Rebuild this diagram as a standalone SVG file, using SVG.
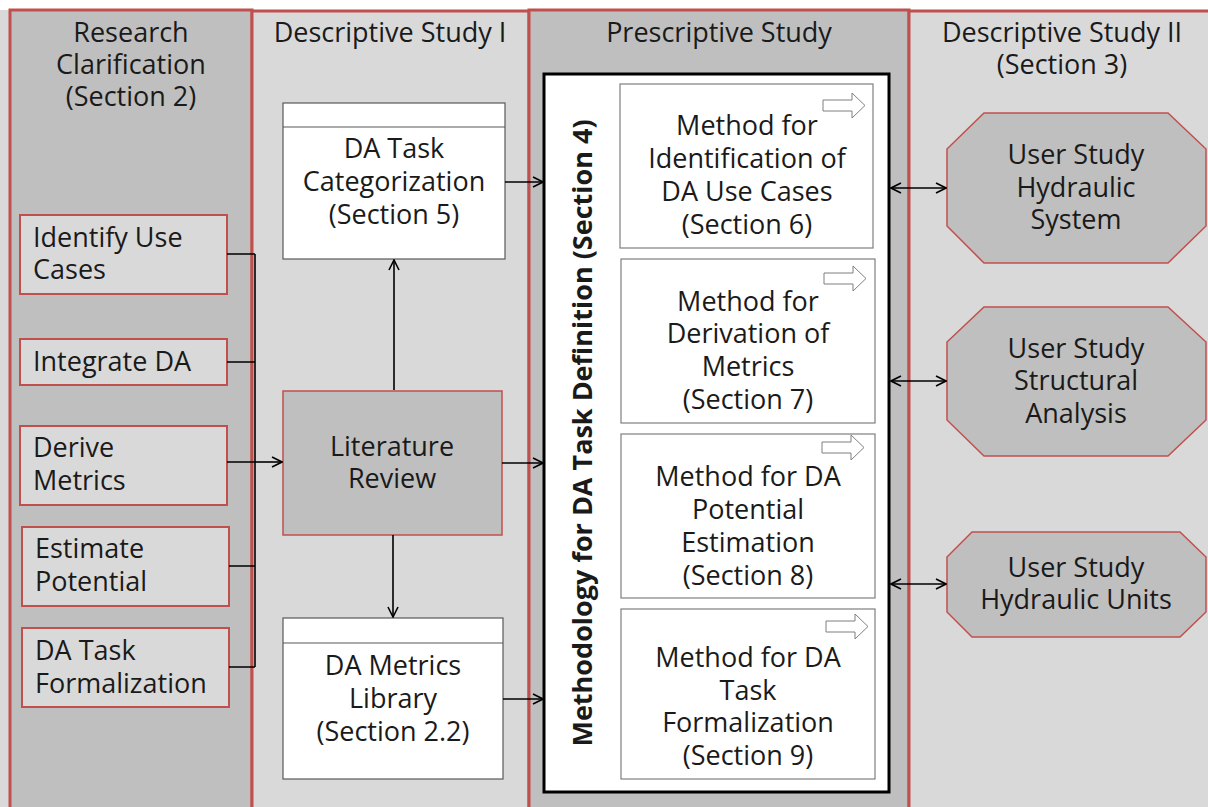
<svg xmlns="http://www.w3.org/2000/svg" width="1208" height="807" viewBox="0 0 1208 807">
  <defs>
    <style>
      text { font-family: "Open Sans", "Noto Sans", "DejaVu Sans", sans-serif; font-size: 27px; fill: #1a1a1a; }
      .c { text-anchor: middle; }
      .laneA { fill: #bfbfbf; stroke: #c0504d; stroke-width: 3; }
      .laneB { fill: #d9d9d9; stroke: #c0504d; stroke-width: 3; }
      .task { fill: #d9d9d9; stroke: #c0504d; stroke-width: 2; }
      .grey { fill: #bfbfbf; stroke: #c0504d; stroke-width: 1.5; }
      .store { fill: #ffffff; stroke: #595959; stroke-width: 1.2; }
      .method { fill: #ffffff; stroke: #7f7f7f; stroke-width: 1.2; }
      .icon { fill: #ffffff; stroke: #7f7f7f; stroke-width: 1; }
      .wire { fill: none; stroke: #000000; stroke-width: 1.6; }
    </style>
    <marker id="open" viewBox="0 0 12 12" refX="11" refY="6" markerWidth="12" markerHeight="12" markerUnits="userSpaceOnUse" orient="auto-start-reverse">
      <path d="M1,1 L11,6 L1,11" fill="none" stroke="#000000" stroke-width="1.6"/>
    </marker>
  </defs>

  <!-- background -->
  <rect x="0" y="0" width="1208" height="807" fill="#ffffff"/>
  <rect x="0" y="10" width="12" height="797" fill="#d9d9d9"/>

  <!-- swimlanes -->
  <g id="lane-research-clarification">
    <rect class="laneA" x="10" y="10" width="242" height="810"/>
    <text class="c" x="131" y="42">Research</text>
    <text class="c" x="131" y="74">Clarification</text>
    <text class="c" x="131" y="106">(Section 2)</text>
  </g>
  <g id="lane-descriptive-study-1">
    <rect class="laneB" x="252" y="11" width="277" height="810"/>
    <text class="c" x="390" y="42">Descriptive Study I</text>
  </g>
  <g id="lane-prescriptive-study">
    <rect class="laneA" x="529" y="10" width="380" height="810"/>
    <text class="c" x="719" y="42">Prescriptive Study</text>
  </g>
  <g id="lane-descriptive-study-2">
    <rect class="laneB" x="909" y="11" width="310" height="810"/>
    <text class="c" x="1062" y="42">Descriptive Study II</text>
    <text class="c" x="1062" y="74">(Section 3)</text>
  </g>

  <!-- research clarification tasks -->
  <g id="identify-use-cases">
    <rect class="task" x="20" y="215" width="207" height="79"/>
    <text x="33" y="247">Identify Use</text>
    <text x="33" y="279">Cases</text>
  </g>
  <g id="integrate-da">
    <rect class="task" x="20" y="339" width="207" height="46"/>
    <text x="33" y="371">Integrate DA</text>
  </g>
  <g id="derive-metrics">
    <rect class="task" x="20" y="426" width="207" height="79"/>
    <text x="33" y="457">Derive</text>
    <text x="33" y="490">Metrics</text>
  </g>
  <g id="estimate-potential">
    <rect class="task" x="22" y="527" width="207" height="79"/>
    <text x="35" y="558">Estimate</text>
    <text x="35" y="591">Potential</text>
  </g>
  <g id="da-task-formalization">
    <rect class="task" x="22" y="628" width="207" height="79"/>
    <text x="35" y="660">DA Task</text>
    <text x="35" y="693">Formalization</text>
  </g>

  <!-- descriptive study I -->
  <g id="da-task-categorization">
    <rect class="store" x="283" y="103" width="222" height="156"/>
    <line x1="283" y1="127" x2="505" y2="127" stroke="#595959" stroke-width="1.2"/>
    <text class="c" x="394" y="158">DA Task</text>
    <text class="c" x="394" y="191">Categorization</text>
    <text class="c" x="394" y="224">(Section 5)</text>
  </g>
  <g id="literature-review">
    <rect class="grey" x="283" y="391" width="219" height="144"/>
    <text class="c" x="392" y="456">Literature</text>
    <text class="c" x="392" y="488">Review</text>
  </g>
  <g id="da-metrics-library">
    <rect class="store" x="283" y="618" width="220" height="161"/>
    <line x1="283" y1="643" x2="503" y2="643" stroke="#595959" stroke-width="1.2"/>
    <text class="c" x="393" y="675">DA Metrics</text>
    <text class="c" x="393" y="708">Library</text>
    <text class="c" x="393" y="741">(Section 2.2)</text>
  </g>

  <!-- prescriptive study: methodology container -->
  <g id="methodology">
    <rect x="544" y="74" width="345" height="718" fill="#ffffff" stroke="#000000" stroke-width="3"/>
    <text class="c" transform="translate(592,433) rotate(-90)" font-weight="bold" font-size="26">Methodology for DA Task Definition (Section 4)</text>
  </g>
  <g id="method-use-cases">
    <rect class="method" x="620" y="84" width="253" height="164"/>
    <path class="icon" d="M823,100 H852 V93 L865,105.5 L852,118 V111 H823 Z"/>
    <text class="c" x="747" y="135">Method for</text>
    <text class="c" x="747" y="168">Identification of</text>
    <text class="c" x="747" y="201">DA Use Cases</text>
    <text class="c" x="747" y="234">(Section 6)</text>
  </g>
  <g id="method-metrics">
    <rect class="method" x="621" y="259" width="254" height="164"/>
    <path class="icon" d="M824,273 H853 V266 L866,278.5 L853,291 V284 H824 Z"/>
    <text class="c" x="748" y="311">Method for</text>
    <text class="c" x="748" y="343">Derivation of</text>
    <text class="c" x="748" y="376">Metrics</text>
    <text class="c" x="748" y="409">(Section 7)</text>
  </g>
  <g id="method-potential">
    <rect class="method" x="621" y="434" width="254" height="164"/>
    <path class="icon" d="M822,442 H851 V435 L864,447.5 L851,460 V453 H822 Z"/>
    <text class="c" x="748" y="486">Method for DA</text>
    <text class="c" x="748" y="519">Potential</text>
    <text class="c" x="748" y="552">Estimation</text>
    <text class="c" x="748" y="585">(Section 8)</text>
  </g>
  <g id="method-formalization">
    <rect class="method" x="621" y="609" width="254" height="170"/>
    <path class="icon" d="M826,621 H855 V614 L868,626.5 L855,639 V632 H826 Z"/>
    <text class="c" x="748" y="667">Method for DA</text>
    <text class="c" x="748" y="700">Task</text>
    <text class="c" x="748" y="732">Formalization</text>
    <text class="c" x="748" y="765">(Section 9)</text>
  </g>

  <!-- descriptive study II: user studies -->
  <g id="user-study-hydraulic-system">
    <polygon class="grey" points="984,113 1168,113 1206,149 1206,226 1168,263 984,263 947,226 947,149"/>
    <text class="c" x="1076" y="164">User Study</text>
    <text class="c" x="1076" y="197">Hydraulic</text>
    <text class="c" x="1076" y="229">System</text>
  </g>
  <g id="user-study-structural-analysis">
    <polygon class="grey" points="984,307 1168,307 1206,342 1206,420 1168,456 984,456 947,420 947,342"/>
    <text class="c" x="1076" y="358">User Study</text>
    <text class="c" x="1076" y="390">Structural</text>
    <text class="c" x="1076" y="423">Analysis</text>
  </g>
  <g id="user-study-hydraulic-units">
    <polygon class="grey" points="972,532 1180,532 1206,557 1206,612 1180,637 972,637 947,612 947,557"/>
    <text class="c" x="1076" y="577">User Study</text>
    <text class="c" x="1076" y="609">Hydraulic Units</text>
  </g>

  <!-- connectors -->
  <g id="connectors">
    <path class="wire" d="M227,254 H255 M227,362 H255 M227,462 H255 M229,566 H255 M229,667 H255 M255,254 V667"/>
    <path class="wire" d="M255,462 H282" marker-end="url(#open)"/>
    <path class="wire" d="M394,390 V260" marker-end="url(#open)"/>
    <path class="wire" d="M393,535 V617" marker-end="url(#open)"/>
    <path class="wire" d="M505,182 H543" marker-end="url(#open)"/>
    <path class="wire" d="M502,463 H543" marker-end="url(#open)"/>
    <path class="wire" d="M503,699 H543" marker-end="url(#open)"/>
    <path class="wire" d="M891,188 H946" marker-start="url(#open)" marker-end="url(#open)"/>
    <path class="wire" d="M891,381 H946" marker-start="url(#open)" marker-end="url(#open)"/>
    <path class="wire" d="M891,584 H946" marker-start="url(#open)" marker-end="url(#open)"/>
  </g>
</svg>
